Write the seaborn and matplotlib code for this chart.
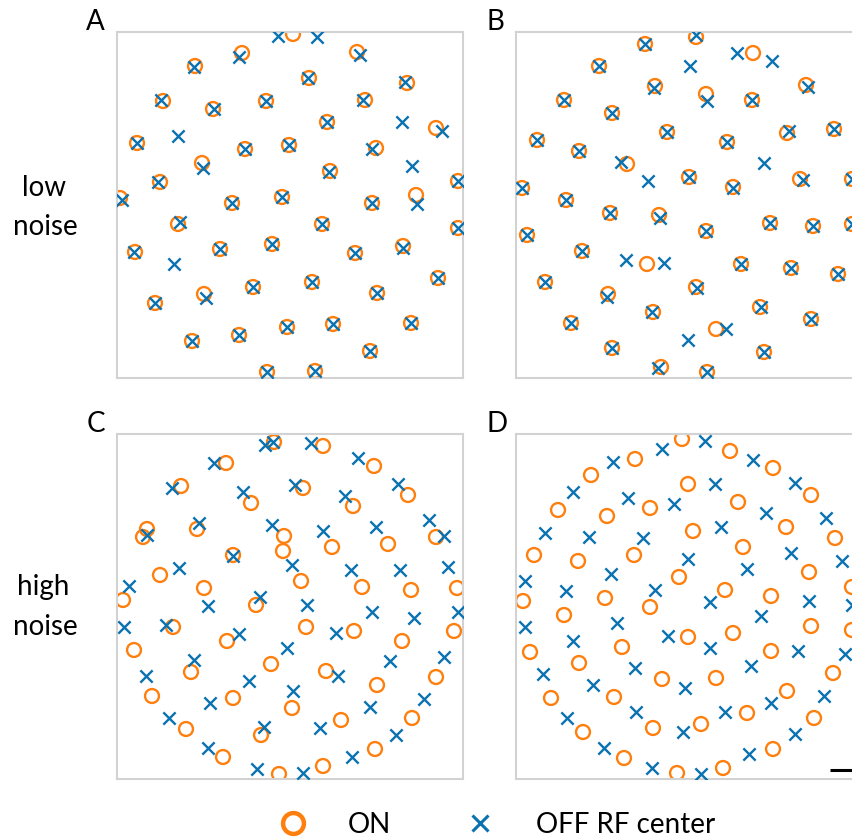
import numpy as np
import pandas as pd
import matplotlib
matplotlib.use("Agg")
import matplotlib.pyplot as plt
from matplotlib.lines import Line2D
import seaborn as sns

# ---------------- data (RF centre positions) ----------------
A_on_x = [293,242,357,195,309,407,163,213,266,365,327,436,137,245,289,376,202,330,160,458,120,232,282,372,416,178,322,458,135,220,272,355,403,438,155,204,253,312,377,192,239,287,333,411,370,267,315]
A_on_y = [34,53,52,66,78,83,101,109,101,100,122,128,143,149,145,148,163,171,182,181,198,203,197,203,195,224,224,228,252,249,244,253,246,278,303,294,287,282,293,341,335,327,324,323,351,372,371]
A_off_x = [278,317,239,360,194,308,405,161,214,266,363,327,402,442,137,178,245,289,372,203,329,412,158,458,122,232,282,372,417,180,322,458,134,174,220,272,355,403,438,155,206,253,312,377,192,239,287,333,411,370,267,315]
A_off_y = [36,37,57,55,67,78,82,100,109,101,100,122,122,131,143,136,149,145,149,168,172,166,182,181,200,203,197,203,204,222,224,228,252,264,249,244,253,248,278,303,298,287,282,293,341,335,327,324,323,351,372,371]

B_on_x = [696,645,753,599,655,806,706,752,564,612,667,787,834,537,727,579,627,689,733,800,852,522,566,610,659,706,770,813,852,527,582,647,741,791,838,545,608,696,653,760,571,716,811,612,764,661,707]
B_on_y = [37,44,53,66,86,85,94,100,100,113,132,133,129,140,142,151,164,177,187,179,179,188,200,213,215,231,223,226,224,235,251,264,264,268,274,282,294,287,312,307,323,329,319,348,352,367,372]
B_off_x = [696,645,737,772,690,599,654,808,707,752,564,612,667,789,834,537,727,579,621,764,648,689,733,803,852,522,566,610,660,706,770,813,852,527,582,626,664,741,791,838,545,607,697,652,761,571,726,811,688,612,764,658,707]
B_off_y = [35,44,53,61,66,66,88,87,101,100,100,113,132,131,129,140,142,151,162,163,181,177,188,180,179,188,200,213,218,231,223,226,224,235,251,260,263,264,268,274,282,297,288,312,307,323,329,319,340,348,352,368,372]

C_on_x = [274,323,226,374,181,303,251,353,408,147,143,197,284,283,332,388,436,233,160,301,362,411,457,204,123,256,173,306,354,454,134,227,402,271,191,326,377,436,152,233,292,341,412,186,261,375,223,323,279]
C_on_y = [442,446,463,466,486,488,503,506,495,529,537,529,536,551,547,544,537,555,575,581,587,590,588,588,600,605,627,627,631,631,650,641,641,664,672,671,685,677,696,698,708,720,718,729,735,749,757,766,774]
C_off_x = [265,273,311,358,214,172,295,243,345,398,199,272,323,376,429,444,147,233,179,292,351,400,448,129,260,208,307,372,414,458,124,166,239,336,287,194,390,444,146,249,338,293,210,370,424,169,264,320,396,208,352,257,303]
C_off_y = [445,442,443,458,463,488,485,492,496,484,523,525,531,527,520,536,535,556,568,565,570,570,567,586,597,606,605,612,618,612,627,625,634,633,648,660,661,657,676,681,676,691,703,707,699,718,727,728,735,748,757,769,773]

D_on_x = [682,730,635,773,591,811,688,558,607,650,738,835,786,693,743,534,578,634,809,679,852,725,771,523,605,650,564,811,852,688,733,530,622,771,579,662,716,833,551,614,787,747,701,653,814,583,773,624,723,677]
D_on_y = [439,451,459,468,475,495,484,510,516,508,502,538,527,531,547,555,561,555,572,577,587,590,596,601,598,607,615,626,630,637,633,652,647,651,663,679,678,673,698,697,691,713,724,728,718,732,749,758,768,773]
D_off_x = [705,662,613,753,573,795,715,628,674,766,826,545,589,643,721,791,842,688,747,611,525,566,655,809,710,852,525,617,761,573,668,710,798,845,635,751,543,593,685,824,771,725,636,567,683,795,604,749,652,701]
D_off_y = [441,449,462,460,492,483,484,498,504,513,518,533,537,538,527,553,561,559,569,574,581,591,590,601,602,605,627,623,616,641,636,648,651,654,668,666,674,685,688,696,703,712,712,718,732,734,748,754,768,774]

panel_names = ["A", "B", "C", "D"]
legend_labels = ["ON", "OFF RF center"]
scalebar_x = [830, 860]
scalebar_y = [770, 770]

ON_COLOR = "#ff7f0e"
OFF_COLOR = "#0a72b0"

# ---------------- figure ----------------
sns.set_style("white")
plt.rcParams["font.family"] = ["Lato", "DejaVu Sans"]
plt.rcParams["text.color"] = "black"

W, H = 853, 840
fig = plt.figure(figsize=(W / 100, H / 100), dpi=100)

# panel extents in the reference's coordinate frame
panels = {
    "A": dict(box=(117, 32, 346, 346), on=(A_on_x, A_on_y), off=(A_off_x, A_off_y)),
    "B": dict(box=(516, 32, 346, 346), on=(B_on_x, B_on_y), off=(B_off_x, B_off_y)),
    "C": dict(box=(117, 434, 346, 345), on=(C_on_x, C_on_y), off=(C_off_x, C_off_y)),
    "D": dict(box=(516, 434, 346, 345), on=(D_on_x, D_on_y), off=(D_off_x, D_off_y)),
}

axes = {}
for name in panel_names:
    p = panels[name]
    l, t, w, h = p["box"]
    ax = fig.add_axes([l / W, 1 - (t + h) / H, w / W, h / H])
    df_on = pd.DataFrame({"x": p["on"][0], "y": p["on"][1]})
    df_off = pd.DataFrame({"x": p["off"][0], "y": p["off"][1]})
    sns.scatterplot(data=df_on, x="x", y="y", ax=ax, marker="o", s=100,
                    facecolor="none", edgecolor=ON_COLOR, linewidth=1.7,
                    zorder=2)
    sns.scatterplot(data=df_off, x="x", y="y", ax=ax, marker="x", s=78,
                    color=OFF_COLOR, linewidth=1.7, zorder=3)
    ax.set_xlim(l, l + w)
    ax.set_ylim(t + h, t)
    ax.set_xticks([])
    ax.set_yticks([])
    ax.set_xlabel("")
    ax.set_ylabel("")
    for sp in ax.spines.values():
        sp.set_color("#d2d2d2")
        sp.set_linewidth(1.5)
    axes[name] = ax

axes["D"].plot(scalebar_x, scalebar_y, color="black", lw=2.2, solid_capstyle="butt", zorder=4)

# panel letters
letter_pos = {"A": (95, 30), "B": (495, 30), "C": (96, 432), "D": (497, 432)}
for name, (x, y) in letter_pos.items():
    fig.text(x / W, 1 - y / H, name, ha="center", va="baseline", fontsize=20)

# row labels
fig.text(44 / W, 1 - 196 / H, "low", ha="center", va="baseline", fontsize=20)
fig.text(45 / W, 1 - 235 / H, "noise", ha="center", va="baseline", fontsize=20)
fig.text(43 / W, 1 - 595 / H, "high", ha="center", va="baseline", fontsize=20)
fig.text(45 / W, 1 - 635 / H, "noise", ha="center", va="baseline", fontsize=20)

# legend
handles = [
    Line2D([], [], linestyle="none", marker="o", markersize=15, markerfacecolor="none",
           markeredgecolor=ON_COLOR, markeredgewidth=3.2),
    Line2D([], [], linestyle="none", marker="x", markersize=12, color=OFF_COLOR,
           markeredgewidth=2.2),
]
fig.legend(handles, legend_labels, loc="center", bbox_to_anchor=(490 / W, 1 - 825 / H),
           ncol=2, frameon=False, fontsize=20, handlelength=2.0, handletextpad=1.0,
           columnspacing=2.2, borderpad=0.0)

fig.savefig("out.png", dpi=100)
